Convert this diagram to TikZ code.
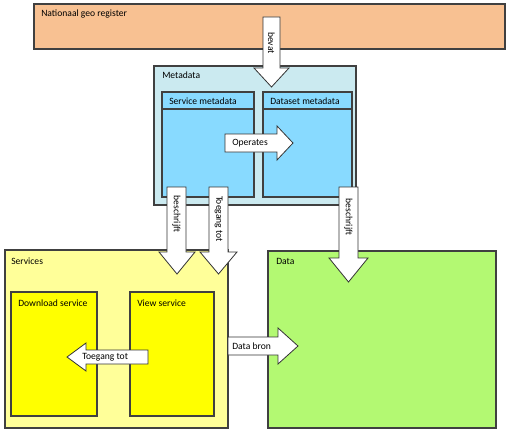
\documentclass[tikz,border=0pt]{standalone}
\usepackage{fontspec}
\setmainfont{Carlito}
\tikzset{
  vak/.style={draw=black!75, line width=0.8pt},
  pijl/.style={draw=black!80, fill=white, line width=0.6pt, line join=miter},
  lbl/.style={inner sep=0pt, anchor=west, font=\fontsize{7.2}{8.6}\selectfont},
  vlbl/.style={inner sep=0pt, rotate=-90, font=\fontsize{7.2}{8.6}\selectfont}
}
\definecolor{ngrkleur}{HTML}{F8C192}
\definecolor{metakleur}{HTML}{CBEAF0}
\definecolor{mdkleur}{HTML}{88DAFF}
\definecolor{servkleur}{HTML}{FFFF99}
\definecolor{servgeel}{HTML}{FFFF00}
\definecolor{datakleur}{HTML}{B3F972}
\begin{document}
\begin{tikzpicture}[x=0.75pt,y=-0.75pt]
            \useasboundingbox (0,0) rectangle (509,431);

            %boxes
            \draw[vak, fill=ngrkleur] (34,4) rectangle (505,49);
            \node[lbl] (ngr) at (41,13.5) {Nationaal geo register};

            \draw[vak, fill=metakleur] (154,66) rectangle (356,205);
            \node[lbl] (meta) at (162,75) {Metadata};

            \draw[vak, fill=mdkleur] (162,92) rectangle (254,197);
            \draw[vak] (162,109) -- (254,109);
            \node[lbl] (smeta) at (169,101.5) {Service metadata};

            \draw[vak, fill=mdkleur] (263,92) rectangle (352,197);
            \draw[vak] (263,109) -- (352,109);
            \node[lbl] (dmeta) at (270,101.5) {Dataset metadata};

            \draw[vak, fill=servkleur] (5,250) rectangle (228,428);
            \node[lbl] (serv) at (11,261) {Services};

            \draw[vak, fill=servgeel] (11,292) rectangle (97,416);
            \node[lbl] (dl) at (18,303) {Download service};

            \draw[vak, fill=servgeel] (130,292) rectangle (214,416);
            \node[lbl] (view) at (137,303) {View service};

            \draw[vak, fill=datakleur] (268,251) rectangle (496,428);
            \node[lbl] (data) at (276,261) {Data};

            %arrows
            \draw[pijl] (263,17) -- (280,17) -- (280,68) -- (289,68) -- (271.5,87) -- (254,68) -- (263,68) -- cycle;
            \node[vlbl] (bevat) at (271.5,43) {bevat};

            \draw[pijl] (225,134) -- (277,134) -- (277,126) -- (293,143) -- (277,160) -- (277,152) -- (225,152) -- cycle;
            \node[lbl] (operates) at (232,143) {Operates};

            \draw[pijl] (167,187) -- (186,187) -- (186,252) -- (195,252) -- (177,274) -- (159,252) -- (167,252) -- cycle;
            \node[vlbl] (beschr1) at (176.5,214) {beschrijft};

            \draw[pijl] (209,187) -- (228,187) -- (228,252) -- (237,252) -- (218.5,274) -- (200,252) -- (209,252) -- cycle;
            \node[vlbl] (toeg1) at (218.5,219) {Toegang tot};

            \draw[pijl] (339,187) -- (358,187) -- (358,258) -- (368,258) -- (348.5,282) -- (329,258) -- (339,258) -- cycle;
            \node[vlbl] (beschr2) at (348.5,217) {beschrijft};

            \draw[pijl] (228,337) -- (278,337) -- (278,328) -- (298,346) -- (278,364) -- (278,355) -- (228,355) -- cycle;
            \node[lbl] (bron) at (232,346) {Data bron};

            \draw[pijl] (148,350) -- (86,350) -- (86,343) -- (67,357) -- (86,371) -- (86,364) -- (148,364) -- cycle;
            \node[lbl] (toeg2) at (82,357) {Toegang tot};
\end{tikzpicture}
\end{document}
